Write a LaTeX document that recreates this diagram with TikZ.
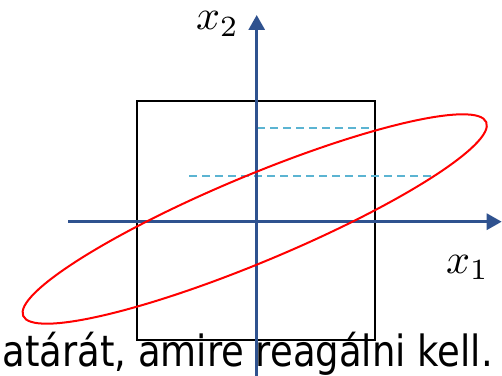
\documentclass[tikz,border=0pt]{standalone}
\usepackage{fontspec}
\newfontfamily\txtfont{DejaVu Sans}
\usetikzlibrary{arrows.meta}
\definecolor{axisblue}{RGB}{47,82,143}
\definecolor{dashblue}{RGB}{91,180,210}
\tikzset{
  axisline/.style={draw=axisblue, line width=3pt, -{Triangle[length=15pt,width=16pt]}},
  boxline/.style={draw=black, line width=2pt},
  guide/.style={draw=dashblue, line width=2pt, dash pattern=on 8pt off 5pt},
  ellipseline/.style={draw=red, line width=2pt},
  lbl/.style={inner sep=0pt},
  caption/.style={inner sep=0pt, font=\txtfont\fontsize{43}{50}\selectfont}
}
\begin{document}
\begin{tikzpicture}[x=1pt,y=1pt]
\useasboundingbox (0,0) rectangle (502,375);
\clip (0,0) rectangle (502,375);
% caption text
\node[caption, anchor=base east] (cap) at (493,9) {\scalebox{0.86}[1]{határát, amire reagálni kell.}};
% box
\node[boxline, minimum width=238pt, minimum height=239pt, inner sep=0pt, anchor=south west] (box) at (136,34) {};
% dashed guides
\coordinate (d1a) at (257,247.3);
\coordinate (d1b) at (374,247.3);
\coordinate (d2a) at (189,199);
\coordinate (d2b) at (433,199);
\draw[guide] (d1a) -- (d1b);
\draw[guide] (d2a) -- (d2b);
% axes
\coordinate (vbot) at (256.7,-2);
\coordinate (vtop) at (256.7,360);
\coordinate (hleft) at (68.3,153.3);
\coordinate (hright) at (501.7,153.3);
\draw[axisline] (vbot) -- (vtop);
\draw[axisline] (hleft) -- (hright);
% ellipse
\coordinate (ec) at (254.7,156);
\draw[ellipseline, rotate around={22.7:(ec)}] (ec) ellipse [x radius=251pt, y radius=43pt];
% labels
\node[lbl, anchor=base west] (x2) at (196,345) {\scalebox{4.2}{$x_2$}};
\node[lbl, anchor=base west] (x1) at (446,102) {\scalebox{4.2}{$x_1$}};
\end{tikzpicture}
\end{document}
